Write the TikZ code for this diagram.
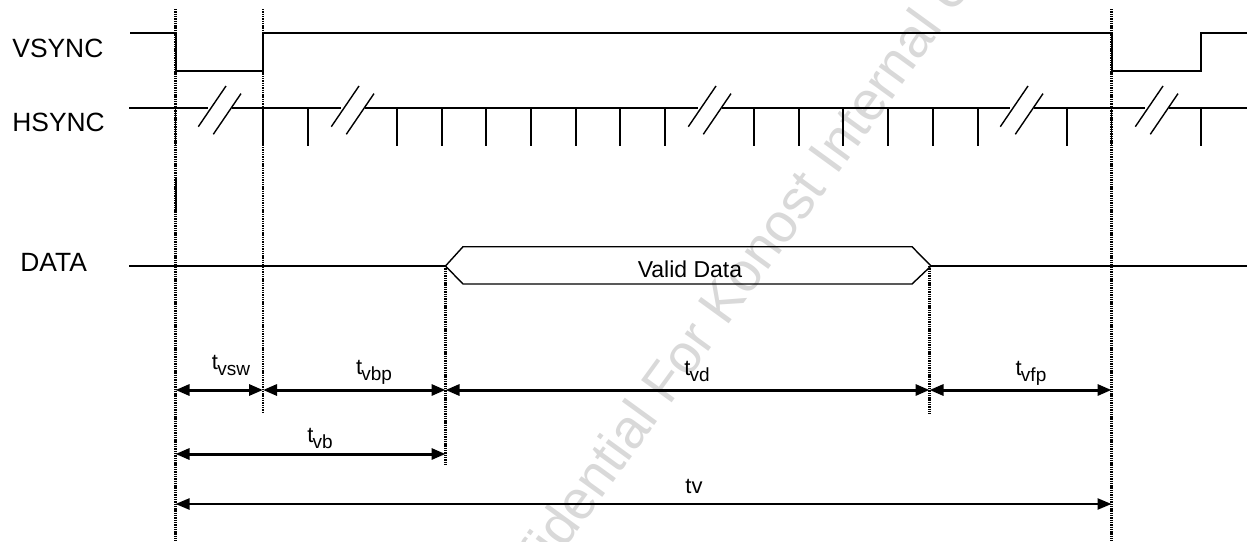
\documentclass[tikz,border=0pt]{standalone}
\usepackage{fontspec}
\setmainfont{Liberation Sans}
\usetikzlibrary{arrows.meta}
\newcommand\tlab[1]{t\kern-0.4pt\raisebox{-3pt}{\fontsize{9.5}{9.5}\selectfont #1}}
\begin{document}
\begin{tikzpicture}[x=0.5pt,y=-0.5pt,
  sig/.style={line width=0.8pt, line join=miter},
  tickline/.style={line width=0.7pt},
  guide/.style={line width=1.3pt, dash pattern=on 0.7pt off 0.45pt},
  dim/.style={line width=1.5pt, {Triangle[length=7pt,width=5.5pt]}-{Triangle[length=7pt,width=5.5pt]}},
  dimthin/.style={line width=1.2pt, {Triangle[length=7pt,width=5.5pt]}-{Triangle[length=7pt,width=5.5pt]}},
  siglabel/.style={anchor=base west, inner sep=0, font=\fontsize{13.2}{14}\selectfont},
  tlabel/.style={anchor=base, inner sep=0, font=\fontsize{11}{12}\selectfont},
]
\useasboundingbox (0,0) rectangle (1247,541);

% watermark
\node[rotate=54, anchor=base, inner sep=0, text=black!15, font=\fontsize{27.5}{30}\selectfont] (wm) at (750,295) {Confidential For Konost Internal Use};

% signal names
\node[siglabel] (vs) at (12,57.3) {VSYNC};
\node[siglabel] (hs) at (12,131.7) {HSYNC};
\node[siglabel] (da) at (20,271.7) {DATA};

% VSYNC waveform
\draw[sig] (130,33) -- (176,33) -- (176,71) -- (263,71) -- (263,33) -- (1112,33) -- (1112,71) -- (1201,71) -- (1201,33) -- (1247,33);

% HSYNC baseline with breaks
\draw[sig] (129,108) -- (208,108);
\draw[sig] (232,108) -- (341,108);
\draw[sig] (365,108) -- (698,108);
\draw[sig] (722,108) -- (1010,108);
\draw[sig] (1034,108) -- (1145,108);
\draw[sig] (1169,108) -- (1247,108);
\foreach \c in {211,344,701,1013,1148}{
  \draw[tickline] (\c-12.7,126.7) -- (\c+15,86);
  \draw[tickline] (\c+2.3,134.3) -- (\c+30,93.6);
}
\foreach \x in {175.5,263,308,397,442,486,531,576,620,665,754,799,843,888,933,978,1067,1111.5,1201}{
  \draw[tickline] (\x,108) -- (\x,145.5);
}
\draw[line width=1pt] (175.5,177) -- (175.5,212);

% DATA
\draw[sig] (129,266) -- (445.5,266);
\draw[sig] (931,266) -- (1247,266);
\draw[tickline] (445.5,266) -- (463,246.7) -- (912,246.7) -- (931,266) -- (912,284) -- (463,284) -- cycle;
\node[anchor=base, inner sep=0, font=\fontsize{11.5}{13}\selectfont] (vd) at (690,277) {Valid Data};

% guide lines
\draw[guide] (175.5,9) -- (175.5,541);
\draw[guide] (263,9) -- (263,413);
\draw[guide] (445.5,266) -- (445.5,466);
\draw[guide] (929.5,266) -- (929.5,414);
\draw[guide] (1111.5,9) -- (1111.5,541);

% dimension arrows
\draw[dim] (175.5,390) -- (263,390);
\draw[dim] (263,390) -- (445.5,390);
\draw[dim] (445.5,390) -- (929.5,390);
\draw[dim] (929.5,390) -- (1111.5,390);
\draw[dim] (175.5,454) -- (445.5,454);
\draw[dimthin] (175.5,504) -- (1111.5,504);

\node[tlabel] (tvsw) at (231,369) {\tlab{vsw}};
\node[tlabel] (tvbp) at (374,374) {\tlab{vbp}};
\node[tlabel] (tvd) at (697,375) {\tlab{vd}};
\node[tlabel] (tvfp) at (1031,375) {\tlab{vfp}};
\node[tlabel] (tvb) at (320,442.7) {\tlab{vb}};
\node[tlabel] (tv) at (694,493) {tv};
\end{tikzpicture}
\end{document}
